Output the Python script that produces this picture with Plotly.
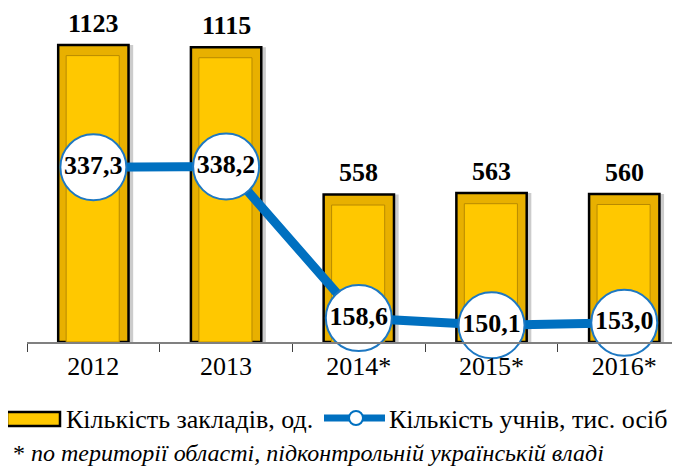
import plotly.graph_objects as go

categories = ["2012", "2013", "2014*", "2015*", "2016*"]
institutions = [1123, 1115, 558, 563, 560]
students = [337.3, 338.2, 158.6, 150.1, 153.0]

bar_name = "Кількість закладів, од."
line_name = "Кількість учнів, тис. осіб"
footnote_star = "*"
footnote_text = "по території області, підконтрольній українській владі"

SERIF = "Liberation Serif"
BLUE = "#0070C0"
GOLD = "#FFC800"

fig = go.Figure()

# shadow
fig.add_trace(go.Bar(
    x=categories, y=institutions, width=0.53, offset=-0.23,
    marker=dict(color="rgba(0,0,0,0.20)", line=dict(width=0)),
    hoverinfo="skip", showlegend=False,
))
fig.add_trace(go.Bar(
    x=categories, y=institutions, width=0.53, offset=-0.265,
    marker=dict(color="#E8B000", line=dict(color="#000000", width=2.5)),
    cliponaxis=False, name=bar_name, showlegend=False,
))
# inner bevel face
fig.add_trace(go.Bar(
    x=categories, y=[v - 40 for v in institutions], width=0.40, offset=-0.205,
    marker=dict(color=GOLD, line=dict(color="#B88A00", width=1)),
    hoverinfo="skip", showlegend=False,
))
fig.add_trace(go.Scatter(
    x=categories, y=students, yaxis="y2", mode="lines+markers+text",
    line=dict(color=BLUE, width=9),
    marker=dict(size=66, color="white", line=dict(color="#1E78C2", width=2)),
    text=[f"{v:.1f}".replace(".", ",") for v in students],
    textposition="middle center",
    textfont=dict(family=SERIF, size=26, color="black", weight="bold"),
    cliponaxis=False, name=line_name, showlegend=False,
))

for i, v in enumerate(institutions):
    fig.add_annotation(x=i, y=v, text=str(v), showarrow=False, yanchor="bottom",
                       yshift=6, borderpad=0,
                       font=dict(family=SERIF, size=26, color="black", weight="bold"))

fig.update_layout(
    width=672, height=458,
    margin=dict(l=19, r=0, t=0, b=124),
    paper_bgcolor="white", plot_bgcolor="white",
    barmode="overlay",
    showlegend=False,
    xaxis=dict(
        type="category",
        range=[-0.5, 4.42], showgrid=False, showline=True, linecolor="#808080",
        linewidth=1.5, ticks="outside", tickson="boundaries", ticklen=8,
        tickcolor="#404040", tickfont=dict(family=SERIF, size=26, color="black"),
        fixedrange=True,
    ),
    yaxis=dict(range=[0, 1263], visible=False, showgrid=False),
    yaxis2=dict(range=[130.3, 526], overlaying="y", visible=False, showgrid=False),
    font=dict(family=SERIF),
)

def px_x(px):
    return (px - 27) / 653

def px_y(py):
    return (342 - py) / 334

# manual legend
fig.add_shape(type="rect", xref="paper", yref="paper",
              x0=px_x(7), x1=px_x(60), y0=px_y(426), y1=px_y(412),
              fillcolor=GOLD, line=dict(color="black", width=2.5))
fig.add_annotation(xref="paper", yref="paper", x=px_x(64), y=px_y(419),
                   xanchor="left", yanchor="middle", showarrow=False,
                   text=bar_name, font=dict(family=SERIF, size=26, color="black"))
fig.add_shape(type="line", xref="paper", yref="paper",
              x0=px_x(324), x1=px_x(385), y0=px_y(418), y1=px_y(418),
              line=dict(color=BLUE, width=7))
fig.add_shape(type="circle", xref="paper", yref="paper",
              x0=px_x(349), x1=px_x(363), y0=px_y(425), y1=px_y(411),
              fillcolor="white", line=dict(color=BLUE, width=2))
fig.add_annotation(xref="paper", yref="paper", x=px_x(387), y=px_y(419),
                   xanchor="left", yanchor="middle", showarrow=False,
                   text=line_name, font=dict(family=SERIF, size=26, color="black"))
fig.add_annotation(xref="paper", yref="paper", x=px_x(11), y=px_y(453),
                   xanchor="left", yanchor="middle", showarrow=False,
                   text=footnote_star + " <i>" + footnote_text + "</i>",
                   font=dict(family=SERIF, size=24, color="black"))

fig.write_html("out.html")
